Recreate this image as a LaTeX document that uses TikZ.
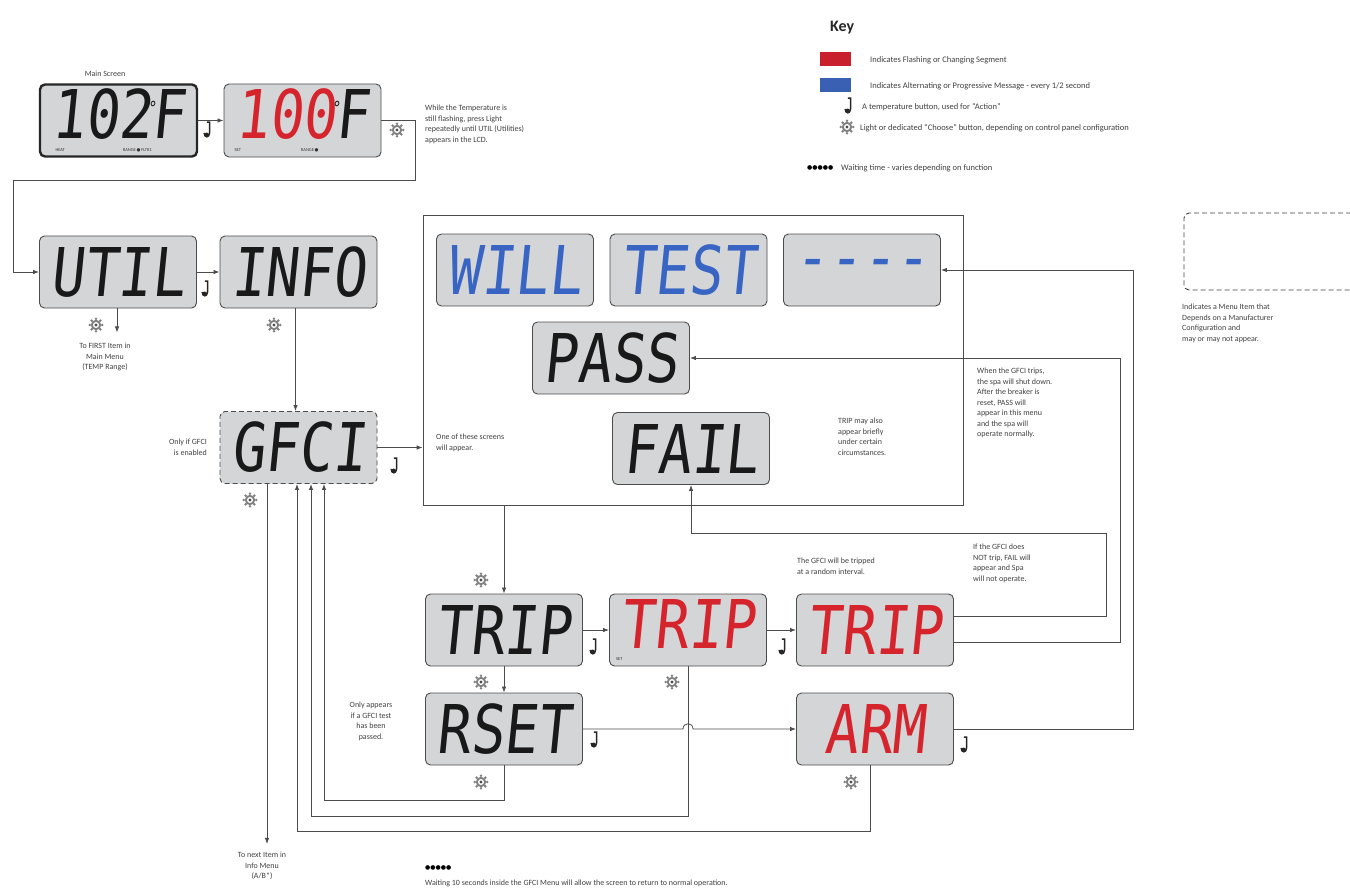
\documentclass[tikz,border=0pt]{standalone}
\usepackage{fontspec}
\setmainfont{Carlito}
\newfontfamily\lcdfont[FakeSlant=0.12,Ligatures=NoCommon]{DejaVu Sans Mono}
\newfontfamily\symfont{DejaVu Sans}
\usetikzlibrary{arrows.meta}
\newcommand{\lcdtxt}[1]{\scalebox{0.93}[1.12]{#1}}
\newcommand{\lcdlbl}[2]{\vbox{\offinterlineskip
  \hbox to 146pt{\hfil\lcdtxt{#1}\hfil}\kern9pt
  \hbox to 146pt{\normalfont\fontsize{4.5}{5}\selectfont\color{black!80}#2\hfil}}}
\definecolor{lcdgray}{RGB}{211,213,215}
\definecolor{lcdred}{RGB}{214,36,44}
\definecolor{lcdblue}{RGB}{56,100,196}
\definecolor{keyred}{RGB}{200,32,44}
\definecolor{keyblue}{RGB}{58,96,180}
\begin{document}
\begin{tikzpicture}[x=1pt,y=-1pt,
  lcd/.style={draw=black!70, line width=0.9pt, fill=lcdgray, rounded corners=5pt,
    minimum width=157pt, minimum height=72pt, inner sep=0pt, text=black!90,
    font=\lcdfont\fontsize{60}{60}\selectfont},
  mainlcd/.style={lcd, line width=2.4pt, draw=black!85},
  optlcd/.style={lcd, dash pattern=on 5pt off 3pt},
  conn/.style={draw=black!70, line width=0.8pt},
  arr/.style={conn, -{Latex[length=6pt,width=4.5pt]}},
  note/.style={font=\fontsize{8}{10.5}\selectfont, text=black!75, inner sep=0pt, align=left},
  keytxt/.style={font=\fontsize{8.5}{10}\selectfont, text=black!75, inner sep=0pt, anchor=west},
  lightbtn/.pic={
    \foreach \a in {0,45,...,315} \fill[black!50] (\a:6.2) circle (1.4);
    \fill[black!50] (0,0) circle (5.2);
    \fill[white] (0,0) circle (3);
    \fill[black!70] (0,0) circle (1.6);
  },
  tempbtn/.pic={
    \draw[line width=1.5pt, black!85] (-1.2,-8) -- (2.4,-8) (1.5,-8) -- (1.5,3)
      .. controls (1.5,8) and (-3.8,8) .. (-3.8,3);
    \fill[black!85] (-1.4,4.8) circle (2.3);
  }
]
\useasboundingbox (0,0) rectangle (1350,892);

% ---------- Key ----------
\node[font=\fontsize{16}{16}\selectfont\bfseries, anchor=west, inner sep=0pt, text=black!85] (keyt) at (830,28) {Key};
\fill[keyred] (820,52) rectangle (851,66);
\node[keytxt] (k1) at (870,60) {Indicates Flashing or Changing Segment};
\fill[keyblue] (820,78) rectangle (851,92);
\node[keytxt] (k2) at (870,86) {Indicates Alternating or Progressive Message - every 1/2 second};
\pic at (849,106) {tempbtn};
\node[keytxt] (k3) at (862,107) {A temperature button, used for ``Action''};
\pic at (847,127) {lightbtn};
\node[keytxt] (k4) at (860,128) {Light or dedicated ``Choose'' button, depending on control panel configuration};
\node[keytxt, font=\symfont\fontsize{6}{6}\selectfont, text=black] (kdots) at (807,168) {●●●●●};
\node[keytxt] (k5) at (841,168) {Waiting time - varies depending on function};

\node[draw=black!75, line width=0.9pt, dash pattern=on 5pt off 3pt, rounded corners=5pt,
  minimum width=172pt, minimum height=77pt, inner sep=0pt] (optkey) at (1270,251.5) {};
\node[note, anchor=north west] (optkeytxt) at (1182,304)
  {Indicates a Menu Item that\\Depends on a Manufacturer\\Configuration and\\may or may not appear.};

% ---------- Top row ----------
\node[note, anchor=south] (mainlbl) at (105,77) {Main Screen};
\node[mainlcd] (main) at (118.5,120.5)
  {\lcdlbl{102\kern-5pt\raisebox{22pt}{\fontsize{16}{16}\selectfont °}\kern-5pt F}{\hskip10pt HEAT\hskip58pt RANGE\,{\symfont●}\,FLTR1}};
\node[lcd, minimum height=73pt] (set100) at (302.5,120.5)
  {\lcdlbl{\textcolor{lcdred}{100}\kern-5pt\raisebox{22pt}{\fontsize{16}{16}\selectfont °}\kern-5pt F}{\hskip5pt SET\hskip60pt RANGE\,{\symfont●}}};
\draw[arr] (main) -- (set100);
\pic at (208,130) {tempbtn};
\pic at (397,130) {lightbtn};
\node[note, anchor=north west] (whiletxt) at (425,105)
  {While the Temperature is\\still flashing, press Light\\repeatedly until UTIL (Utilities)\\appears in the LCD.};

% ---------- UTIL / INFO ----------
\node[lcd] (util) at (118,272) {\lcdtxt{UTIL}};
\node[lcd] (info) at (298.5,272) {\lcdtxt{INFO}};
\draw[arr] (set100.east) -- ++(34,0) |- (13,180) |- (util.west);
\draw[arr] (util) -- (info);
\pic at (206,289) {tempbtn};
\draw[arr] ([xshift=-1pt]util.south) -- ++(0,24);
\pic at (96,325) {lightbtn};
\node[note, anchor=north, align=center] (firsttxt) at (105,343) {To FIRST Item in\\Main Menu\\(TEMP Range)};
\pic at (274,325) {lightbtn};

% ---------- GFCI ----------
\node[optlcd] (gfci) at (298.5,447.5) {\lcdtxt{GFCI}};
\draw[arr] ([xshift=-3pt]info.south) -- ([xshift=-3pt]gfci.north);
\node[note, anchor=east, align=right] (onlyif) at (207,447) {Only if GFCI\\is enabled};
\pic at (250,500) {lightbtn};
\pic at (395,466) {tempbtn};

% ---------- Big box ----------
\node[draw=black!70, line width=0.8pt, minimum width=540pt, minimum height=290pt, inner sep=0pt] (big) at (693,360) {};
\draw[arr] (gfci.east) -- (gfci.east -| big.west);
\node[lcd, text=lcdblue] (will) at (515,270) {\lcdtxt{WILL}};
\node[lcd, text=lcdblue] (test) at (688.5,270) {\lcdtxt{TEST}};
\node[lcd, text=lcdblue] (dash) at (862,270) {\lcdtxt{-{}-{}-{}-}};
\node[lcd] (pass) at (611,358) {\lcdtxt{PASS}};
\node[lcd] (fail) at (691,448.5) {\lcdtxt{FAIL}};
\node[note, anchor=north west] (oneof) at (436,434) {One of these screens\\will appear.};
\node[note, anchor=north west] (tripmay) at (838,418) {TRIP may also\\appear briefly\\under certain\\circumstances.};
\node[note, anchor=north west] (whentxt) at (977,368)
  {When the GFCI trips,\\the spa will shut down.\\After the breaker is\\reset, PASS will\\appear in this menu\\and the spa will\\operate normally.};

% ---------- TRIP row ----------
\node[lcd] (trip1) at (504,630) {\lcdtxt{TRIP}};
\node[lcd, text=lcdred] (trip2) at (688,630) {\lcdlbl{TRIP}{\hskip1pt SET}};
\node[lcd, text=lcdred] (trip3) at (875,630) {\lcdtxt{TRIP}};
\draw[arr] (big.south -| trip1) -- (trip1.north);
\pic at (481,580) {lightbtn};
\draw[arr] (trip1) -- (trip2);
\draw[arr] (trip2) -- (trip3);
\pic at (594,647) {tempbtn};
\pic at (783,647) {tempbtn};
\node[note, anchor=north west] (random) at (797,558) {The GFCI will be tripped\\at a random interval.};
\node[note, anchor=north west] (ifnot) at (973,544) {If the GFCI does\\NOT trip, FAIL will\\appear and Spa\\will not operate.};
\draw[arr] ([yshift=14pt]trip3.east) -- (1106,616) |- (691,533) -- (fail.south);
\draw[arr] ([yshift=-12pt]trip3.east) -| (1120,358) -- (pass.east);

% ---------- RSET / ARM ----------
\node[lcd] (rset) at (504,729) {\lcdtxt{RSET}};
\node[lcd, text=lcdred] (arm) at (875,729) {\lcdtxt{ARM}};
\draw[arr] (trip1) -- (rset);
\pic at (481,682) {lightbtn};
\pic at (672,682) {lightbtn};
\pic at (595,740) {tempbtn};
\pic at (965,745) {tempbtn};
\pic at (481,782) {lightbtn};
\pic at (851,782) {lightbtn};
\node[note, anchor=north, align=center] (onlyapp) at (371,702) {Only appears\\if a GFCI test\\has been\\passed.};
\draw[arr] (rset.east) -- (683,729) .. controls (683,722) and (693,722) .. (693,729) -- (arm.west);
\draw[arr] (arm.east) -| (1133,270) -- (dash.east);

% ---------- Return lines to GFCI ----------
\draw[arr] (rset.south) -- ++(0,35) -| ([xshift=25.5pt]gfci.south);
\draw[arr] (trip2.south) -- ++(0,150) -| ([xshift=12.5pt]gfci.south);
\draw[arr] ([xshift=-5pt]arm.south) -- ++(0,66) -| ([xshift=-1.5pt]gfci.south);
\draw[arr] ([xshift=-31.5pt]gfci.south) -- ++(0,360);
\node[note, anchor=north, align=center] (nexttxt) at (262,852) {To next Item in\\Info Menu\\(A/B*)};

% ---------- Bottom note ----------
\node[keytxt, font=\symfont\fontsize{6}{6}\selectfont, text=black] (bdots) at (425,868) {●●●●●};
\node[keytxt, font=\fontsize{8}{10}\selectfont] (waittxt) at (425,883)
  {Waiting 10 seconds inside the GFCI Menu will allow the screen to return to normal operation.};
\end{tikzpicture}
\end{document}
